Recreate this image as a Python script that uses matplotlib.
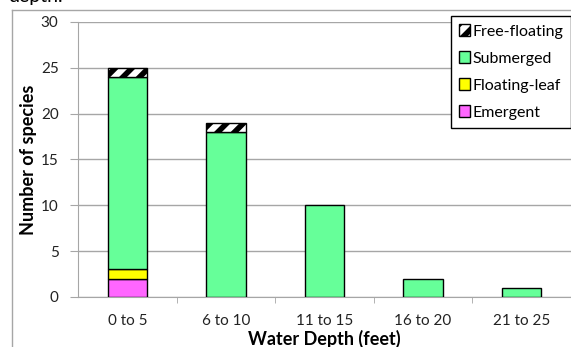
import matplotlib

matplotlib.use("Agg")
import matplotlib.pyplot as plt
from matplotlib.lines import Line2D
from matplotlib.patches import Patch
import numpy as np

plt.rcParams["font.family"] = ["Lato", "DejaVu Sans"]
plt.rcParams["hatch.linewidth"] = 4.0

depths = ["0 to 5", "6 to 10", "11 to 15", "16 to 20", "21 to 25"]
emergent = [2, 0, 0, 0, 0]
floating_leaf = [1, 0, 0, 0, 0]
submerged = [21, 18, 10, 2, 1]
free_floating = [1, 1, 0, 0, 0]

GRID = "#a6a6a6"
series = [
    ("Emergent", emergent, "#ff66ff", None),
    ("Floating-leaf", floating_leaf, "#ffff00", None),
    ("Submerged", submerged, "#66ff99", None),
    ("Free-floating", free_floating, "white", "//"),
]

fig = plt.figure(figsize=(5.71, 3.47), dpi=100)
ax = fig.add_axes([0.1366, 0.1441, 0.8634, 0.7925])

x = np.arange(len(depths))
bottom = np.zeros(len(depths))
handles = []
for name, vals, color, hatch in series:
    vals = np.array(vals, dtype=float)
    keep = vals > 0
    ax.bar(x[keep], vals[keep], bottom=bottom[keep], width=0.4, color=color,
           edgecolor="black", linewidth=1, hatch=hatch, zorder=3)
    bottom += vals
    handles.append(Patch(facecolor=color, edgecolor="black", hatch=hatch, label=name))

ax.set_xlim(-0.5, len(depths) - 0.5)
ax.set_ylim(0, 30)
ax.set_yticks(range(0, 31, 5))
ax.set_xticks(x)
ax.set_xticklabels(depths, fontsize=11, color="#222222")
ax.set_xticks(np.arange(0.5, len(depths) - 0.5), minor=True)
ax.tick_params(axis="x", which="major", length=0, pad=12)
ax.tick_params(axis="x", which="minor", length=4, color=GRID)
ax.tick_params(axis="y", length=6, color=GRID, labelsize=11, labelcolor="#222222", pad=8)
ax.grid(axis="y", color=GRID, lw=1, zorder=0)
ax.set_axisbelow(True)
for s in ("top", "right"):
    ax.spines[s].set_visible(False)
ax.spines["left"].set_color(GRID)
ax.spines["bottom"].set_color(GRID)

ax.set_ylabel("Number of species", fontsize=13, fontweight="bold", labelpad=3)
ax.set_xlabel("Water Depth (feet)", fontsize=13, fontweight="bold", labelpad=1.5)

leg = ax.legend(handles=handles[::-1], loc="upper right", bbox_to_anchor=(1.0, 1.02),
                borderaxespad=0, fancybox=False, edgecolor="black", fontsize=11.5,
                handlelength=0.7, handleheight=0.7, handletextpad=0.15,
                labelspacing=0.8, borderpad=0.5, framealpha=1)
leg.get_frame().set_linewidth(1)

# outer chart-area border (left and top edges visible)
fig.add_artist(Line2D([12 / 571, 12 / 571], [0, 1 - 10 / 347], color=GRID, lw=1))
fig.add_artist(Line2D([12 / 571, 1], [1 - 10 / 347, 1 - 10 / 347], color=GRID, lw=1))
fig.text(8 / 571, 1 - 2 / 347, "depth.", fontsize=14, va="baseline", ha="left")

fig.savefig("out.png", dpi=100)
